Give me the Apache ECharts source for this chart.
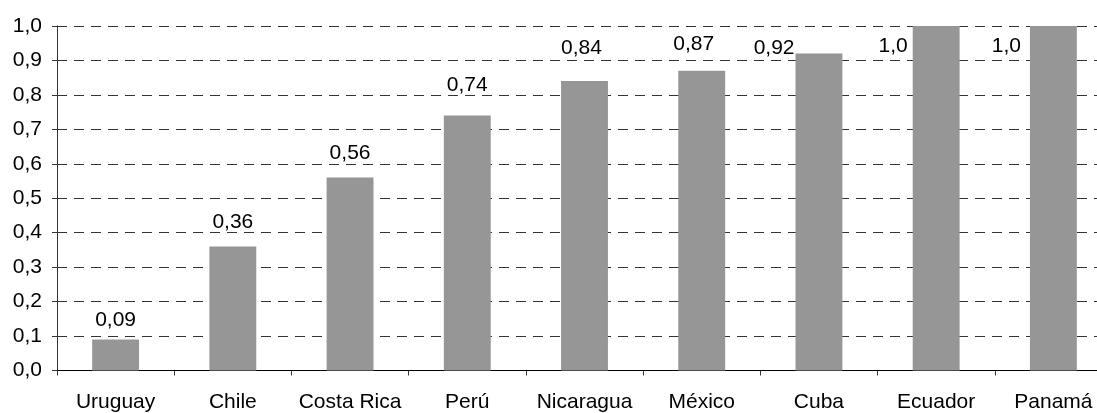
<!DOCTYPE html>
<html>
<head>
<meta charset="utf-8">
<script src="https://cdn.jsdelivr.net/npm/echarts@6/dist/echarts.min.js"></script>
<style>
html,body{margin:0;padding:0;background:#fff;overflow:hidden;width:1097px;height:413px;}
#chart{width:1120px;height:413px;}
</style>
</head>
<body>
<div id="chart"></div>
<script>
// Data
var categories = ['Uruguay', 'Chile', 'Costa Rica', 'Perú', 'Nicaragua', 'México', 'Cuba', 'Ecuador', 'Panamá'];
var values = [0.09, 0.36, 0.56, 0.74, 0.84, 0.87, 0.92, 1.0, 1.0];
var valueLabels = ['0,09', '0,36', '0,56', '0,74', '0,84', '0,87', '0,92', '1,0', '1,0'];
var yTickLabels = ['0,0', '0,1', '0,2', '0,3', '0,4', '0,5', '0,6', '0,7', '0,8', '0,9', '1,0'];

// Label placement styles (not data)
var labelPlacement = [
  {position: 'top', distance: 9, offset: [0, 0]},
  {position: 'top', distance: 14, offset: [0, 0]},
  {position: 'top', distance: 14, offset: [0, 0]},
  {position: 'top', distance: 20, offset: [0, 0]},
  {position: 'top', distance: 22, offset: [-3, 0]},
  {position: 'top', distance: 16, offset: [-8, 0]},
  {position: [-1, -5], align: 'right', verticalAlign: 'middle'},
  {position: [-5, 20], align: 'right', verticalAlign: 'middle'},
  {position: [-9, 20], align: 'right', verticalAlign: 'middle'}
];

var FONT = '"Liberation Sans", Arial, sans-serif';
var chart = echarts.init(document.getElementById('chart'), null, {renderer: 'canvas'});

var barData = values.map(function (v, i) {
  var p = labelPlacement[i];
  var lbl = {show: true, formatter: valueLabels[i], position: p.position};
  if (p.distance !== undefined) lbl.distance = p.distance;
  if (p.offset) lbl.offset = p.offset;
  if (p.align) { lbl.align = p.align; lbl.verticalAlign = p.verticalAlign; }
  return {value: v, label: lbl};
});

chart.setOption({
  animation: false,
  backgroundColor: '#fff',
  grid: {left: 57, top: 26, width: 1055, height: 344.5, containLabel: false},
  xAxis: {
    type: 'category',
    data: categories,
    axisLine: {show: true, lineStyle: {color: '#000', width: 1}},
    axisTick: {show: true, inside: false, length: 5, alignWithLabel: false, lineStyle: {color: '#333'}},
    axisLabel: {color: '#000', fontSize: 21, fontFamily: FONT, margin: 21, interval: 0},
    splitLine: {show: false}
  },
  yAxis: {
    type: 'value',
    min: 0,
    max: 1,
    interval: 0.1,
    axisLine: {show: true, lineStyle: {color: '#333', width: 1}},
    axisTick: {show: true, length: 5, lineStyle: {color: '#333'}},
    axisLabel: {
      color: '#000', fontSize: 21, fontFamily: FONT, margin: 15,
      formatter: function (v) { return yTickLabels[Math.round(v * 10)]; }
    },
    splitLine: {show: true, lineStyle: {color: '#333', width: 1, type: [10, 7]}}
  },
  series: [{
    type: 'bar',
    data: barData,
    barWidth: '40%',
    itemStyle: {color: '#969696'},
    label: {color: '#000', fontSize: 21, fontFamily: FONT}
  }]
});
</script>
</body>
</html>
